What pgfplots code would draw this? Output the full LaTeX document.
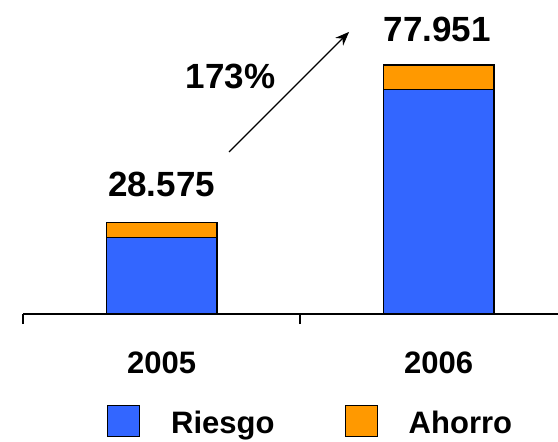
\documentclass[border=0pt]{standalone}
\usepackage{fontspec}
\setmainfont{Liberation Sans}
\usepackage{pgfplots}
\pgfplotsset{compat=1.18}
\usetikzlibrary{arrows.meta}
\definecolor{riesgo}{HTML}{3366FF}
\definecolor{ahorro}{HTML}{FF9900}
\tikzset{
  big/.style={font=\fontsize{35bp}{42bp}\selectfont\bfseries, inner sep=0pt, anchor=base},
  mid/.style={font=\fontsize{31bp}{37bp}\selectfont\bfseries, inner sep=0pt, anchor=base},
}
\begin{document}
\begin{tikzpicture}
\begin{axis}[
  scale only axis, width=535bp, height=314bp,
  xmin=-0.5, xmax=1.431, ymin=0, ymax=98.28,
  axis x line=bottom, axis y line=none,
  x axis line style={-, line width=1.2bp},
  xtick={-0.5,0.5,1.5}, xticklabels={},
  tick align=outside, major tick length=10bp,
  tick style={black, line width=1.2bp},
  ybar stacked, bar width=0.4,
  clip=false,
  legend columns=2,
  legend style={at={(rel axis cs:0.157,-0.2890)}, anchor=north west,
    draw=none, fill=none, inner sep=0pt, outer sep=0pt,
    font=\fontsize{31bp}{37bp}\selectfont\bfseries,
    nodes={inner sep=0pt},
    /tikz/every odd column/.append style={column sep=31bp},
    /tikz/every even column/.append style={column sep=70bp}},
  legend image code/.code={\draw[#1] (0bp,-13bp) rectangle (32bp,18bp);},
]
\addplot[fill=riesgo, draw=black, line width=1.2bp] coordinates {(0,23.88) (1,70.33)};
\addlegendentry{Riesgo}
\addplot[fill=ahorro, draw=black, line width=1.2bp] coordinates {(0,4.695) (1,7.621)};
\addlegendentry{Ahorro}

\coordinate (sw) at (rel axis cs:0,0);
\coordinate (ne) at (rel axis cs:1,1);

\node[big] at (axis cs:0,36.7) {28.575};
\node[big] at (axis cs:0.995,85.2) {77.951};
\node[big] at (axis cs:0.249,70.7) {173\%};
\draw[line width=1.3bp, -{Stealth[length=14bp,width=11bp]}] (axis cs:0.2437,50.7) -- (axis cs:0.677,88.3);

\node[mid] at (axis cs:0,-18.47) {2005};
\node[mid] at (axis cs:1,-18.47) {2006};
\end{axis}
\pgfresetboundingbox
\path (sw) ++(-23bp,-128bp) rectangle (ne);
\end{tikzpicture}
\end{document}
